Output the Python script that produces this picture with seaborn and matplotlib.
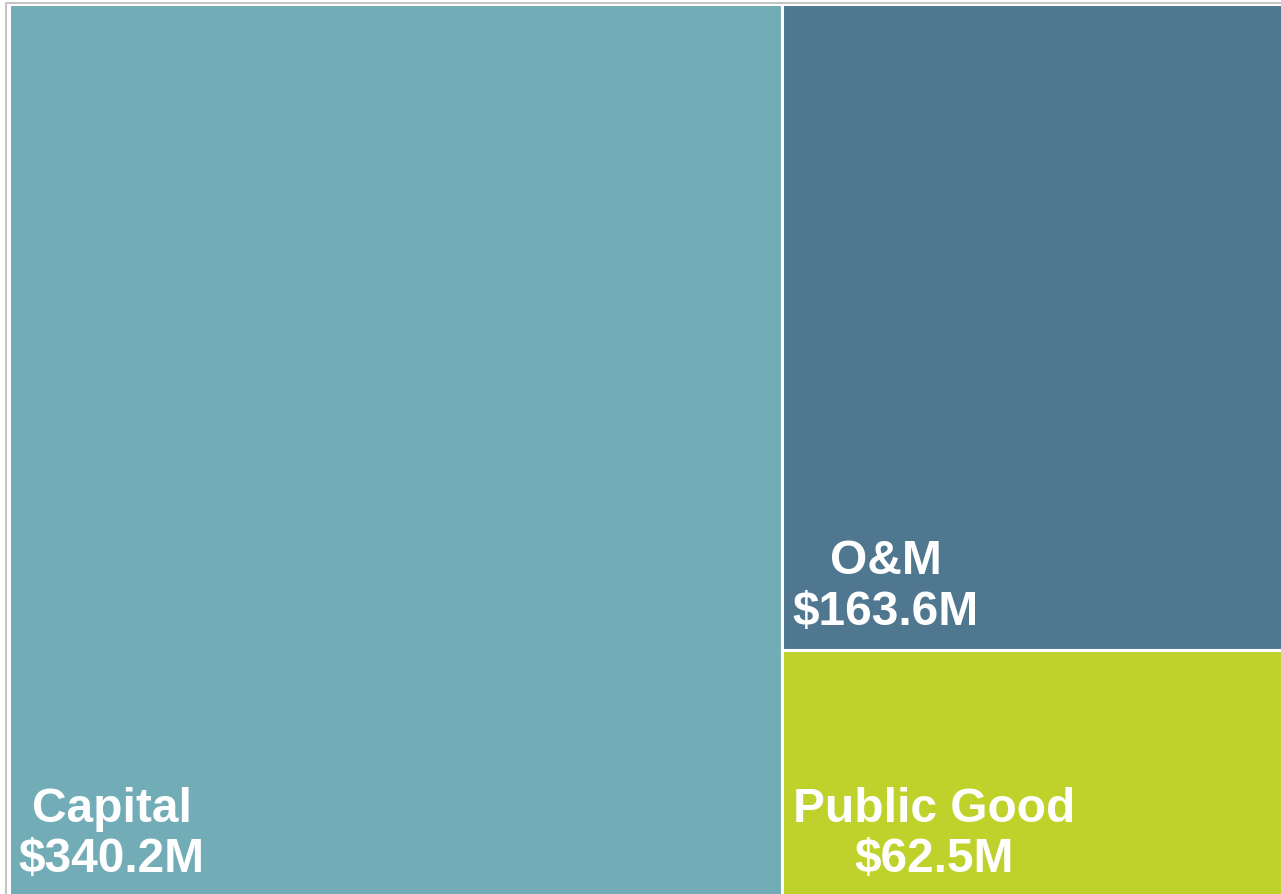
import matplotlib
matplotlib.use("Agg")
import matplotlib.pyplot as plt
import seaborn as sns
from matplotlib.lines import Line2D

# data
categories = ["Capital", "O&M", "Public Good"]
values = [340.2, 163.6, 62.5]
colors = ["#72adb7", "#4f778f", "#bfd22b"]

sns.set_theme(style="white")
plt.rcParams['font.family'] = ['Liberation Sans', 'DejaVu Sans']

W, H = 1281, 895
fig = plt.figure(figsize=(W / 100, H / 100), dpi=100)
fig.patch.set_facecolor("white")

# axes slightly bigger than canvas (reference is cropped at right/bottom)
ax = fig.add_axes([8.5 / W, (H - 898.5) / H, 1288 / W, 894 / H])
ax.set_xlim(0, 1)
ax.set_ylim(0, 1)
ax.axis("off")

# simple slice-and-dice treemap layout from the values
total = sum(values)
wcap = values[0] / total
rest = values[1] + values[2]
hom = values[1] / rest
rects = [
    (0, 0, wcap, 1),
    (wcap, 1 - hom, 1 - wcap, hom),
    (wcap, 0, 1 - wcap, 1 - hom),
]

for (x, y, w, h), c, name, v in zip(rects, colors, categories, values):
    ax.bar(x, h, width=w, bottom=y, align="edge", color=c,
           edgecolor="white", linewidth=2.2)
    ax.annotate(f"{name}\n${v:.1f}M", xy=(x, y), xytext=(7.5, 19),
                textcoords="offset points", ha="left", va="baseline",
                multialignment="center", color="white", fontsize=34.5,
                fontweight="bold", linespacing=1.16)

# thin gray frame on top and left
fig.add_artist(Line2D([6 / W, 6 / W], [0, 1 - 3.5 / H], transform=fig.transFigure,
                      color="#c4c4c4", linewidth=1.5))
fig.add_artist(Line2D([6 / W, 1], [1 - 3.5 / H, 1 - 3.5 / H], transform=fig.transFigure,
                      color="#c4c4c4", linewidth=1.5))

fig.savefig("out.png", dpi=100)
